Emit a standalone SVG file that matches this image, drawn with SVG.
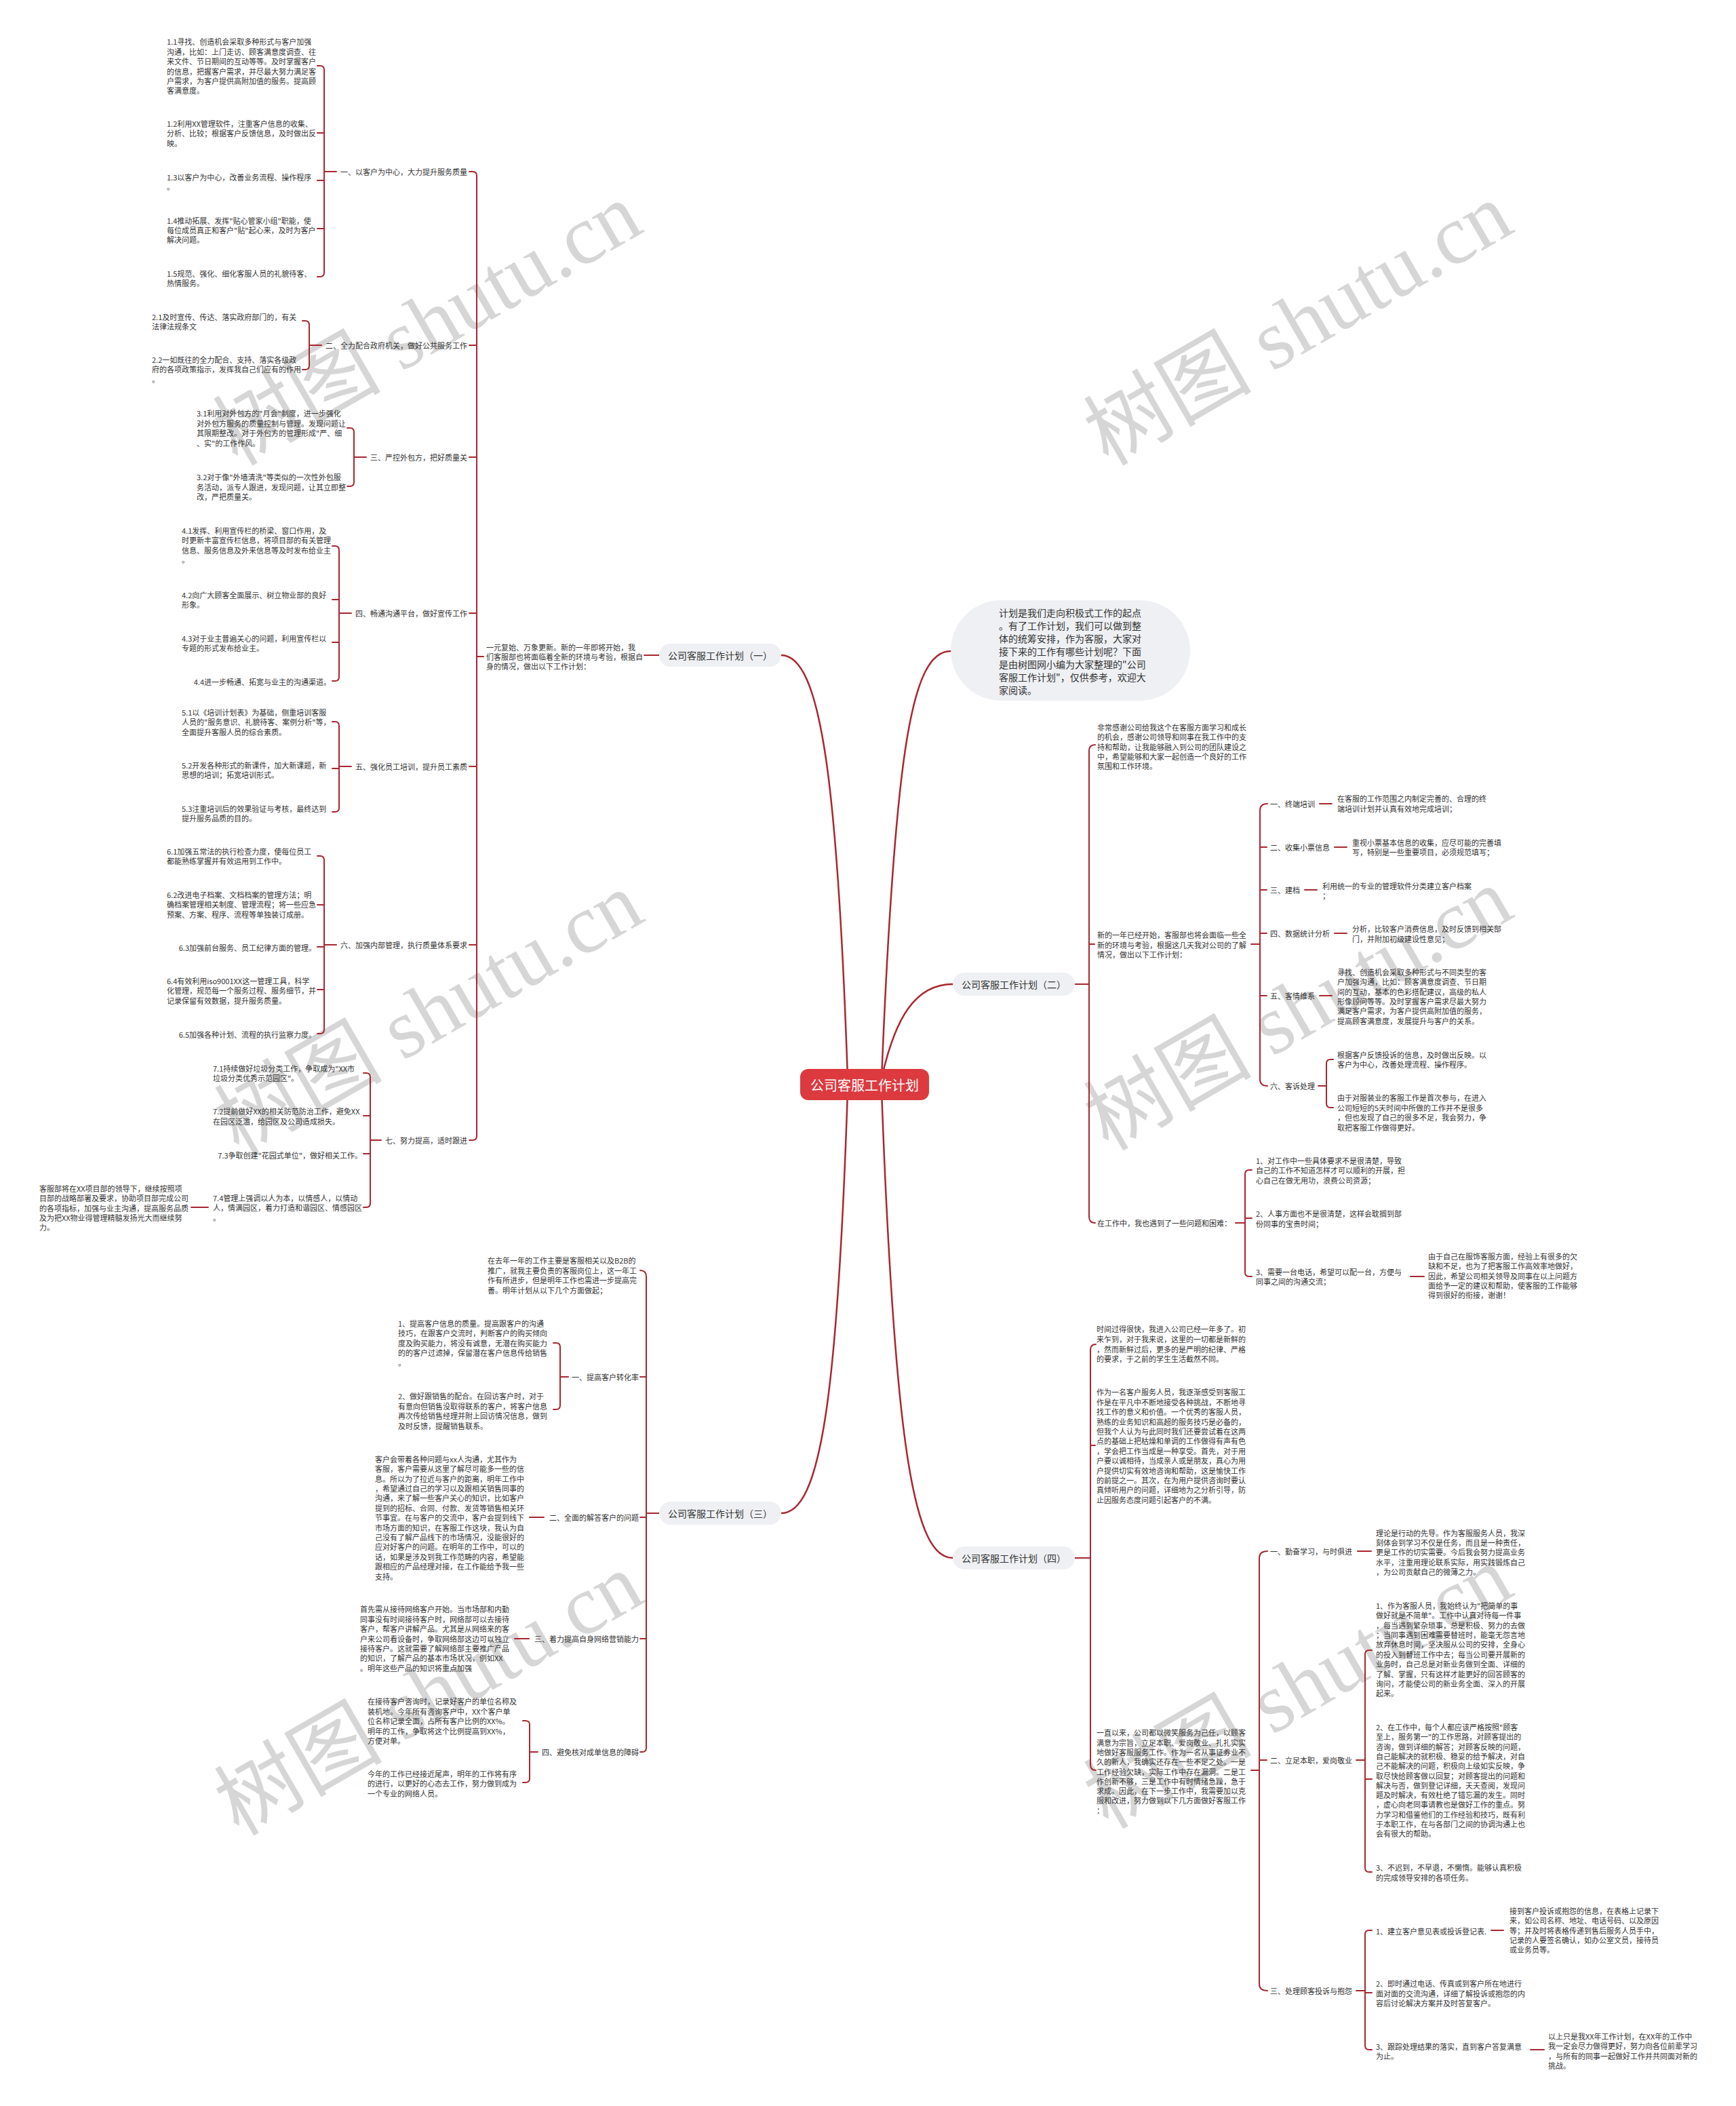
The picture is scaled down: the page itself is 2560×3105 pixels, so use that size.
<svg xmlns="http://www.w3.org/2000/svg" width="2560" height="3105" viewBox="0 0 2560 3105">
<style>
.t{font-family:"Noto Sans CJK SC","Microsoft YaHei",sans-serif;font-size:11px;fill:#333;dominant-baseline:central}
.e{text-anchor:end}
.b{font-family:"Noto Sans CJK SC",sans-serif;font-size:14px;fill:#333;dominant-baseline:central;text-anchor:middle}
.i{font-family:"Noto Sans CJK SC",sans-serif;font-size:14px;fill:#333;dominant-baseline:central}
.c{font-family:"Noto Sans CJK SC",sans-serif;font-size:20px;fill:#fff;dominant-baseline:central;text-anchor:middle}
.ln{fill:none;stroke:#a9262f;stroke-width:2;stroke-linecap:round}
.mc{fill:none;stroke:#a9262f;stroke-width:2.5;stroke-linecap:round}
.pill{fill:#eef0f3}
.wm{font-family:"Liberation Serif","Noto Sans CJK SC",serif;font-size:124px;fill:#d6d6d6}
</style>
<rect width="2560" height="3105" fill="#fff"/>
<g id="watermark">
<text class="wm" transform="translate(350 688) rotate(-30)">树图 shutu.cn</text>
<text class="wm" transform="translate(1634 688) rotate(-30)">树图 shutu.cn</text>
<text class="wm" transform="translate(352 1704) rotate(-30)">树图 shutu.cn</text>
<text class="wm" transform="translate(1634 1698) rotate(-30)">树图 shutu.cn</text>
<text class="wm" transform="translate(352 2708) rotate(-30)">树图 shutu.cn</text>
<text class="wm" transform="translate(1634 2698) rotate(-30)">树图 shutu.cn</text>
</g>
<g id="connectors">
<path class="mc" d="M1250 1590C1235 1150 1210 966 1152 966"/>
<path class="mc" d="M1250 1608C1235 2060 1210 2231 1152 2231"/>
<path class="mc" d="M1300 1590C1320 1100 1345 960 1402 960"/>
<path class="mc" d="M1300 1590C1320 1500 1350 1451 1405 1451"/>
<path class="mc" d="M1300 1608C1320 2150 1350 2297 1405 2297"/>
<path class="ln" d="M950 966H972"/>
<path class="ln" d="M692 253H697Q703 253 703 259V1675Q703 1681 697 1681H692M692 509H703M692 674H703M692 904H703M692 1130H703M692 1393H703M703 968H713"/>
<path class="ln" d="M468 97H472Q478 97 478 103V402Q478 408 472 408H468M468 196H478M468 266H478M468 337H478M478 253H496"/>
<path class="ln" d="M446 473H450Q456 473 456 479V539Q456 545 450 545H446M456 509H474"/>
<path class="ln" d="M512 631H516Q522 631 522 637V711Q522 717 516 717H512M522 674H540"/>
<path class="ln" d="M490 805H494Q500 805 500 811V998Q500 1004 494 1004H490M490 884H500M490 947H500M500 904H518"/>
<path class="ln" d="M490 1064H494Q500 1064 500 1070V1191Q500 1197 494 1197H490M490 1133H500M500 1130H518"/>
<path class="ln" d="M468 1262H472Q478 1262 478 1268V1518Q478 1524 472 1524H468M468 1334H478M468 1396H478M468 1459H478M478 1393H496"/>
<path class="ln" d="M536 1582H540Q546 1582 546 1588V1774Q546 1780 540 1780H536M536 1645H546M536 1701H546M546 1681H562"/>
<path class="ln" d="M282 1780H307"/>
<path class="ln" d="M944 1873Q953 1873 953 1882V2577Q953 2583 947 2583H944M944 2030H953M944 2237H953M944 2416H953M953 2231H972"/>
<path class="ln" d="M816 1980H820Q826 1980 826 1986V2072Q826 2078 820 2078H816M826 2030H838"/>
<path class="ln" d="M781 2237H802"/>
<path class="ln" d="M759 2416H780"/>
<path class="ln" d="M771 2537H775Q781 2537 781 2543V2622Q781 2628 775 2628H771M781 2583H793"/>
<path class="ln" d="M1615 1098Q1606 1098 1606 1107V1794Q1606 1803 1615 1803M1606 1392H1614M1585 1451H1606"/>
<path class="ln" d="M1869 1185Q1858 1185 1858 1195V1591Q1858 1601 1869 1601M1858 1249H1868M1858 1312H1868M1858 1376H1868M1858 1468H1868M1845 1392H1858"/>
<path class="ln" d="M1946 1185H1964M1968 1249H1986M1924 1312H1942M1968 1376H1986M1946 1468H1964"/>
<path class="ln" d="M1944 1601H1956M1966 1562H1962Q1956 1562 1956 1568V1627Q1956 1633 1962 1633H1966"/>
<path class="ln" d="M1822 1803H1836M1846 1725H1842Q1836 1725 1836 1731V1876Q1836 1882 1842 1882H1846M1836 1796H1846"/>
<path class="ln" d="M2080 1882H2100"/>
<path class="ln" d="M1616 1982Q1608 1982 1608 1990V2602Q1608 2610 1616 2610M1608 2131H1615M1585 2297H1608"/>
<path class="ln" d="M1869 2287Q1857 2287 1857 2297V2925Q1857 2935 1869 2935M1857 2595H1868M1845 2610H1857"/>
<path class="ln" d="M2002 2287H2022"/>
<path class="ln" d="M2000 2595H2013M2023 2433H2019Q2013 2433 2013 2439V2754Q2013 2760 2019 2760H2023M2013 2623H2023"/>
<path class="ln" d="M2000 2935H2013M2023 2846H2019Q2013 2846 2013 2852V3016Q2013 3022 2019 3022H2023M2013 2938H2023"/>
<path class="ln" d="M2199 2846H2217M2257 3022H2277"/>
</g>
<g id="center"><rect x="1180" y="1576" width="190" height="46" rx="12" fill="#dc3a3f"/><text class="c" x="1275" y="1599">公司客服工作计划</text></g>
<g id="intro"><rect class="pill" x="1402" y="885" width="353" height="148" rx="74"/>
<text class="i" x="1473" y="903.3">计划是我们走向积极式工作的起点<tspan x="1473" dy="18.9">。有了工作计划，我们可以做到整</tspan><tspan x="1473" dy="18.9">体的统筹安排，作为客服，大家对</tspan><tspan x="1473" dy="18.9">接下来的工作有哪些计划呢？下面</tspan><tspan x="1473" dy="18.9">是由树图网小编为大家整理的"公司</tspan><tspan x="1473" dy="18.9">客服工作计划"，仅供参考，欢迎大</tspan><tspan x="1473" dy="18.9">家阅读。</tspan></text></g>
<g id="b1"><rect class="pill" x="972" y="949" width="180" height="34" rx="17"/><text class="b" x="1062" y="966">公司客服工作计划（一）</text></g>
<g id="b1-intro"><text class="t" x="717" y="953.6">一元复始、万象更新。新的一年即将开始，我<tspan x="717" dy="14.4">们客服部也将面临着全新的环境与考验，根据自</tspan><tspan x="717" dy="14.4">身的情况，做出以下工作计划：</tspan></text></g>
<g id="b1-labels">
<text class="t e" x="689" y="253">一、以客户为中心，大力提升服务质量</text>
<text class="t e" x="689" y="509">二、全力配合政府机关，做好公共服务工作</text>
<text class="t e" x="689" y="674">三、严控外包方，把好质量关</text>
<text class="t e" x="689" y="904">四、畅通沟通平台，做好宣传工作</text>
<text class="t e" x="689" y="1130">五、强化员工培训，提升员工素质</text>
<text class="t e" x="689" y="1393">六、加强内部管理，执行质量体系要求</text>
<text class="t e" x="689" y="1681">七、努力提高，适时跟进</text>
</g>
<g id="b1-leaves">
<text class="t" x="246" y="61.4">1.1寻找、创造机会采取多种形式与客户加强<tspan x="246" dy="14.4">沟通，比如：上门走访、顾客满意度调查、往</tspan><tspan x="246" dy="14.4">来文件、节日期间的互动等等。及时掌握客户</tspan><tspan x="246" dy="14.4">的信息，把握客户需求，并尽最大努力满足客</tspan><tspan x="246" dy="14.4">户需求，为客户提供高附加值的服务。提高顾</tspan><tspan x="246" dy="14.4">客满意度。</tspan></text>
<text class="t" x="246" y="182">1.2利用XX管理软件，注重客户信息的收集、<tspan x="246" dy="14.4">分析、比较；根据客户反馈信息，及时做出反</tspan><tspan x="246" dy="14.4">映。</tspan></text>
<text class="t" x="246" y="261">1.3以客户为中心，改善业务流程、操作程序<tspan x="246" dy="14.4">。</tspan></text>
<text class="t" x="246" y="324.6">1.4推动拓展、发挥"贴心管家小组"职能，使<tspan x="246" dy="14.4">每位成员真正和客户"贴"起心来，及时为客户</tspan><tspan x="246" dy="14.4">解决问题。</tspan></text>
<text class="t" x="246" y="402.5">1.5规范、强化、细化客服人员的礼貌待客、<tspan x="246" dy="14.4">热情服务。</tspan></text>
<text class="t" x="224" y="466.8">2.1及时宣传、传达、落实政府部门的，有关<tspan x="224" dy="14.4">法律法规条文</tspan></text>
<text class="t" x="224" y="530">2.2一如既往的全力配合、支持、落实各级政<tspan x="224" dy="14.4">府的各项政策指示，发挥我自己们应有的作用</tspan><tspan x="224" dy="14.4">。</tspan></text>
<text class="t" x="290" y="609.4">3.1利用对外包方的"月会"制度，进一步强化<tspan x="290" dy="14.4">对外包方服务的质量控制与管理。发现问题让</tspan><tspan x="290" dy="14.4">其限期整改。对于外包方的管理形成"严、细</tspan><tspan x="290" dy="14.4">、实"的工作作风。</tspan></text>
<text class="t" x="290" y="703.4">3.2对于像"外墙清洗"等类似的一次性外包服<tspan x="290" dy="14.4">务活动，派专人跟进，发现问题，让其立即整</tspan><tspan x="290" dy="14.4">改，严把质量关。</tspan></text>
<text class="t" x="268" y="782">4.1发挥、利用宣传栏的桥梁、窗口作用，及<tspan x="268" dy="14.4">时更新丰富宣传栏信息，将项目部的有关管理</tspan><tspan x="268" dy="14.4">信息、服务信息及外来信息等及时发布给业主</tspan><tspan x="268" dy="14.4">。</tspan></text>
<text class="t" x="268" y="876.5">4.2向广大顾客全面展示、树立物业部的良好<tspan x="268" dy="14.4">形象。</tspan></text>
<text class="t" x="268" y="941">4.3对于业主普遍关心的问题，利用宣传栏以<tspan x="268" dy="14.4">专题的形式发布给业主。</tspan></text>
<text class="t e" x="488" y="1005">4.4进一步畅通、拓宽与业主的沟通渠道。</text>
<text class="t" x="268" y="1050">5.1以《培训计划表》为基础，侧重培训客服<tspan x="268" dy="14.4">人员的"服务意识、礼貌待客、案例分析"等，</tspan><tspan x="268" dy="14.4">全面提升客服人员的综合素质。</tspan></text>
<text class="t" x="268" y="1128">5.2开发各种形式的新课件，加大新课题，新<tspan x="268" dy="14.4">思想的培训；拓宽培训形式。</tspan></text>
<text class="t" x="268" y="1191.5">5.3注重培训后的效果验证与考核，最终达到<tspan x="268" dy="14.4">提升服务品质的目的。</tspan></text>
<text class="t" x="246" y="1255">6.1加强五常法的执行检查力度，使每位员工<tspan x="246" dy="14.4">都能熟练掌握并有效运用到工作中。</tspan></text>
<text class="t" x="246" y="1319">6.2改进电子档案、文档档案的管理方法；明<tspan x="246" dy="14.4">确档案管理相关制度、管理流程；将一些应急</tspan><tspan x="246" dy="14.4">预案、方案、程序、流程等单独装订成册。</tspan></text>
<text class="t e" x="466" y="1397">6.3加强前台服务、员工纪律方面的管理。</text>
<text class="t" x="246" y="1446">6.4有效利用iso9001XX这一管理工具，科学<tspan x="246" dy="14.4">化管理，规范每一个服务过程、服务细节，并</tspan><tspan x="246" dy="14.4">记录保留有效数据，提升服务质量。</tspan></text>
<text class="t e" x="466" y="1525">6.5加强各种计划、流程的执行监察力度。</text>
<text class="t" x="314" y="1575">7.1持续做好垃圾分类工作，争取成为"XX市<tspan x="314" dy="14.4">垃圾分类优秀示范园区"。</tspan></text>
<text class="t" x="314" y="1638.3">7.2提前做好XX的相关防范防治工作，避免XX<tspan x="314" dy="14.4">在园区泛滥，给园区及公司造成损失。</tspan></text>
<text class="t e" x="534" y="1702.7">7.3争取创建"花园式单位"，做好相关工作。</text>
<text class="t" x="314" y="1766">7.4管理上强调以人为本，以情感人，以情动<tspan x="314" dy="14.4">人，情满园区，着力打造和谐园区、情感园区</tspan><tspan x="314" dy="14.4">。</tspan></text>
<text class="t" x="58" y="1751.7">客服部将在XX项目部的领导下，继续按照项<tspan x="58" dy="14.4">目部的战略部署及要求，协助项目部完成公司</tspan><tspan x="58" dy="14.4">的各项指标，加强与业主沟通，提高服务品质</tspan><tspan x="58" dy="14.4">及为把XX物业得管理精髓发扬光大而继续努</tspan><tspan x="58" dy="14.4">力。</tspan></text>
</g>
<g id="b3"><rect class="pill" x="972" y="2214" width="180" height="34" rx="17"/><text class="b" x="1062" y="2231">公司客服工作计划（三）</text></g>
<g id="b3-nodes">
<text class="t" x="719" y="1858.3">在去年一年的工作主要是客服相关以及B2B的<tspan x="719" dy="14.4">推广，就我主要负责的客服岗位上，这一年工</tspan><tspan x="719" dy="14.4">作有所进步，但是明年工作也需进一步提高完</tspan><tspan x="719" dy="14.4">善。明年计划从以下几个方面做起；</tspan></text>
<text class="t e" x="942" y="2030">一、提高客户转化率</text>
<text class="t e" x="942" y="2237">二、全面的解答客户的问题</text>
<text class="t e" x="942" y="2416">三、着力提高自身网络营销能力</text>
<text class="t e" x="942" y="2583">四、避免核对成单信息的障碍</text>
<text class="t" x="587" y="1951">1、提高客户信息的质量。提高跟客户的沟通<tspan x="587" dy="14.4">技巧，在跟客户交流时，判断客户的购买倾向</tspan><tspan x="587" dy="14.4">度及购买能力，将没有诚意，无潜在购买能力</tspan><tspan x="587" dy="14.4">的的客户过滤掉，保留潜在客户信息传给销售</tspan><tspan x="587" dy="14.4">。</tspan></text>
<text class="t" x="587" y="2058.3">2、做好跟销售的配合。在回访客户时，对于<tspan x="587" dy="14.4">有意向但销售没取得联系的客户，将客户信息</tspan><tspan x="587" dy="14.4">再次传给销售经理并附上回访情况信息，做到</tspan><tspan x="587" dy="14.4">及时反馈，提醒销售联系。</tspan></text>
<text class="t" x="553" y="2150.7">客户会带着各种问题与xx人沟通，尤其作为<tspan x="553" dy="14.4">客服，客户需要从这里了解尽可能多一些的信</tspan><tspan x="553" dy="14.4">息。所以为了拉近与客户的距离，明年工作中</tspan><tspan x="553" dy="14.4">，希望通过自己的学习以及跟相关销售同事的</tspan><tspan x="553" dy="14.4">沟通，来了解一些客户关心的知识，比如客户</tspan><tspan x="553" dy="14.4">提到的招标、合同、付款、发货等销售相关环</tspan><tspan x="553" dy="14.4">节事宜。在与客户的交流中，客户会提到线下</tspan><tspan x="553" dy="14.4">市场方面的知识，在客服工作这块，我认为自</tspan><tspan x="553" dy="14.4">己没有了解产品线下的市场情况，没能很好的</tspan><tspan x="553" dy="14.4">应对好客户的问题。在明年的工作中，可以的</tspan><tspan x="553" dy="14.4">话，如果是涉及到我工作范畴的内容，希望能</tspan><tspan x="553" dy="14.4">跟相应的产品经理对接，在工作能给予我一些</tspan><tspan x="553" dy="14.4">支持。</tspan></text>
<text class="t" x="531" y="2372.3">首先需从接待网络客户开始。当市场部和内勤<tspan x="531" dy="14.4">同事没有时间接待客户时，网络部可以去接待</tspan><tspan x="531" dy="14.4">客户，帮客户讲解产品。尤其是从网络来的客</tspan><tspan x="531" dy="14.4">户来公司看设备时，争取网络部这边可以独立</tspan><tspan x="531" dy="14.4">接待客户。这就需要了解网络部主要推广产品</tspan><tspan x="531" dy="14.4">的知识，了解产品的基本市场状况，例如XX</tspan><tspan x="531" dy="14.4">。明年这些产品的知识将重点加强</tspan></text>
<text class="t" x="542" y="2508.3">在接待客户咨询时，记录好客户的单位名称及<tspan x="542" dy="14.4">装机地。今年所有咨询客户中，XX个客户单</tspan><tspan x="542" dy="14.4">位名称记录全面，占所有客户比例的XX%。</tspan><tspan x="542" dy="14.4">明年的工作，争取将这个比例提高到XX%，</tspan><tspan x="542" dy="14.4">方便对单。</tspan></text>
<text class="t" x="542" y="2615">今年的工作已经接近尾声，明年的工作将有序<tspan x="542" dy="14.4">的进行，以更好的心态去工作，努力做到成为</tspan><tspan x="542" dy="14.4">一个专业的网络人员。</tspan></text>
</g>
<g id="b2"><rect class="pill" x="1405" y="1434" width="180" height="34" rx="17"/><text class="b" x="1495" y="1451">公司客服工作计划（二）</text></g>
<g id="b2-nodes">
<text class="t" x="1618" y="1071.7">非常感谢公司给我这个在客服方面学习和成长<tspan x="1618" dy="14.4">的机会，感谢公司领导和同事在我工作中的支</tspan><tspan x="1618" dy="14.4">持和帮助，让我能够融入到公司的团队建设之</tspan><tspan x="1618" dy="14.4">中，希望能够和大家一起创造一个良好的工作</tspan><tspan x="1618" dy="14.4">氛围和工作环境。</tspan></text>
<text class="t" x="1618" y="1378.3">新的一年已经开始，客服部也将会面临一些全<tspan x="1618" dy="14.4">新的环境与考验，根据这几天我对公司的了解</tspan><tspan x="1618" dy="14.4">情况，做出以下工作计划：</tspan></text>
<text class="t" x="1873" y="1185">一、终端培训</text>
<text class="t" x="1873" y="1249">二、收集小票信息</text>
<text class="t" x="1873" y="1312">三、建档</text>
<text class="t" x="1873" y="1376">四、数据统计分析</text>
<text class="t" x="1873" y="1468">五、客情维系</text>
<text class="t" x="1873" y="1601">六、客诉处理</text>
<text class="t" x="1972" y="1177.3">在客服的工作范围之内制定完善的、合理的终<tspan x="1972" dy="14.4">端培训计划并认真有效地完成培训；</tspan></text>
<text class="t" x="1994" y="1241.7">重视小票基本信息的收集，应尽可能的完善填<tspan x="1994" dy="14.4">写，特别是一些重要项目，必须规范填写；</tspan></text>
<text class="t" x="1950" y="1305.7">利用统一的专业的管理软件分类建立客户档案<tspan x="1950" dy="14.4">；</tspan></text>
<text class="t" x="1994" y="1369.3">分析，比较客户消费信息，及时反馈到相关部<tspan x="1994" dy="14.4">门，并附加初级建设性意见；</tspan></text>
<text class="t" x="1972" y="1432.7">寻找、创造机会采取多种形式与不同类型的客<tspan x="1972" dy="14.4">户加强沟通，比如：顾客满意度调查、节日期</tspan><tspan x="1972" dy="14.4">间的互动，基本的色彩搭配建议，高级的私人</tspan><tspan x="1972" dy="14.4">形像顾问等等。及时掌握客户需求尽最大努力</tspan><tspan x="1972" dy="14.4">满足客户需求，为客户提供高附加值的服务，</tspan><tspan x="1972" dy="14.4">提高顾客满意度，发展提升与客户的关系。</tspan></text>
<text class="t" x="1972" y="1555">根据客户反馈投诉的信息，及时做出反映。以<tspan x="1972" dy="14.4">客户为中心，改善处理流程、操作程序。</tspan></text>
<text class="t" x="1972" y="1618.3">由于对服装业的客服工作是首次参与，在进入<tspan x="1972" dy="14.4">公司短短的5天时间中所做的工作并不是很多</tspan><tspan x="1972" dy="14.4">，但也发现了自己的很多不足，我会努力，争</tspan><tspan x="1972" dy="14.4">取把客服工作做得更好。</tspan></text>
<text class="t" x="1618" y="1803">在工作中，我也遇到了一些问题和困难：</text>
<text class="t" x="1852" y="1710.7">1、对工作中一些具体要求不是很清楚，导致<tspan x="1852" dy="14.4">自己的工作不知道怎样才可以顺利的开展，担</tspan><tspan x="1852" dy="14.4">心自己在做无用功，浪费公司资源；</tspan></text>
<text class="t" x="1852" y="1789.3">2、人事方面也不是很清楚，这样会耽搁到部<tspan x="1852" dy="14.4">份同事的宝贵时间；</tspan></text>
<text class="t" x="1852" y="1875">3、需要一台电话，希望可以配一台，方便与<tspan x="1852" dy="14.4">同事之间的沟通交流；</tspan></text>
<text class="t" x="2106" y="1851.7">由于自己在服饰客服方面，经验上有很多的欠<tspan x="2106" dy="14.4">缺和不足，也为了把客服工作高效率地做好，</tspan><tspan x="2106" dy="14.4">因此，希望公司相关领导及同事在以上问题方</tspan><tspan x="2106" dy="14.4">面给予一定的建议和帮助，使客服的工作能够</tspan><tspan x="2106" dy="14.4">得到很好的衔接，谢谢！</tspan></text>
</g>
<g id="b4"><rect class="pill" x="1405" y="2280" width="180" height="34" rx="17"/><text class="b" x="1495" y="2297">公司客服工作计划（四）</text></g>
<g id="b4-nodes">
<text class="t" x="1617" y="1959.3">时间过得很快，我进入公司已经一年多了。初<tspan x="1617" dy="14.6">来乍到，对于我来说，这里的一切都是新鲜的</tspan><tspan x="1617" dy="14.6">，然而新鲜过后，更多的是严明的纪律、严格</tspan><tspan x="1617" dy="14.6">的要求，于之前的学生生活截然不同。</tspan></text>
<text class="t" x="1617" y="2052.4">作为一名客户服务人员，我逐渐感受到客服工<tspan x="1617" dy="14.4">作是在平凡中不断地接受各种挑战，不断地寻</tspan><tspan x="1617" dy="14.4">找工作的意义和价值。一个优秀的客服人员，</tspan><tspan x="1617" dy="14.4">熟练的业务知识和高超的服务技巧是必备的，</tspan><tspan x="1617" dy="14.4">但我个人认为与此同时我们还要尝试着在这两</tspan><tspan x="1617" dy="14.4">点的基础上把枯燥和单调的工作做得有声有色</tspan><tspan x="1617" dy="14.4">，学会把工作当成是一种享受。首先，对于用</tspan><tspan x="1617" dy="14.4">户要以诚相待，当成亲人或是朋友，真心为用</tspan><tspan x="1617" dy="14.4">户提供切实有效地咨询和帮助，这是愉快工作</tspan><tspan x="1617" dy="14.4">的前提之一。其次，在为用户提供咨询时要认</tspan><tspan x="1617" dy="14.4">真倾听用户的问题，详细地为之分析引导，防</tspan><tspan x="1617" dy="14.4">止因服务态度问题引起客户的不满。</tspan></text>
<text class="t" x="1617" y="2554.3">一直以来，公司都以微笑服务为己任，以顾客<tspan x="1617" dy="14.3">满意为宗旨，立足本职、爱岗敬业、扎扎实实</tspan><tspan x="1617" dy="14.3">地做好客服服务工作。作为一名从事证券业不</tspan><tspan x="1617" dy="14.3">久的新人，我确实还存在一些不足之处。一是</tspan><tspan x="1617" dy="14.3">工作经验欠缺，实际工作中存在漏洞。二是工</tspan><tspan x="1617" dy="14.3">作创新不够，三是工作中有时情绪急躁，急于</tspan><tspan x="1617" dy="14.3">求成。因此，在下一步工作中，我需要加以克</tspan><tspan x="1617" dy="14.3">服和改进，努力做到以下几方面做好客服工作</tspan><tspan x="1617" dy="14.3">：</tspan></text>
<text class="t" x="1873" y="2287">一、勤奋学习，与时俱进</text>
<text class="t" x="1873" y="2595">二、立足本职，爱岗敬业</text>
<text class="t" x="1873" y="2935">三、处理顾客投诉与抱怨</text>
<text class="t" x="2029" y="2259.6">理论是行动的先导。作为客服服务人员，我深<tspan x="2029" dy="14.4">刻体会到学习不仅是任务，而且是一种责任，</tspan><tspan x="2029" dy="14.4">更是工作的切实需要。今后我会努力提高业务</tspan><tspan x="2029" dy="14.4">水平，注重用理论联系实际，用实践锻炼自己</tspan><tspan x="2029" dy="14.4">，为公司贡献自己的微薄之力。</tspan></text>
<text class="t" x="2029" y="2366.8">1、作为客服人员，我始终认为"把简单的事<tspan x="2029" dy="14.4">做好就是不简单"。工作中认真对待每一件事</tspan><tspan x="2029" dy="14.4">，每当遇到繁杂琐事，总是积极、努力的去做</tspan><tspan x="2029" dy="14.4">；当同事遇到困难需要替班时，能毫无怨言地</tspan><tspan x="2029" dy="14.4">放弃休息时间，坚决服从公司的安排，全身心</tspan><tspan x="2029" dy="14.4">的投入到替班工作中去；每当公司要开展新的</tspan><tspan x="2029" dy="14.4">业务时，自己总是对新业务做到全面、详细的</tspan><tspan x="2029" dy="14.4">了解、掌握，只有这样才能更好的回答顾客的</tspan><tspan x="2029" dy="14.4">询问，才能使公司的新业务全面、深入的开展</tspan><tspan x="2029" dy="14.4">起来。</tspan></text>
<text class="t" x="2029" y="2546">2、在工作中，每个人都应该严格按照"顾客<tspan x="2029" dy="14.3">至上，服务第一"的工作思路，对顾客提出的</tspan><tspan x="2029" dy="14.3">咨询，做到详细的解答；对顾客反映的问题，</tspan><tspan x="2029" dy="14.3">自己能解决的就积极、稳妥的给予解决，对自</tspan><tspan x="2029" dy="14.3">己不能解决的问题，积极向上级如实反映，争</tspan><tspan x="2029" dy="14.3">取尽快给顾客做以回复；对顾客提出的问题和</tspan><tspan x="2029" dy="14.3">解决与否，做到登记详细，天天查阅，发现问</tspan><tspan x="2029" dy="14.3">题及时解决，有效杜绝了错忘漏的发生。同时</tspan><tspan x="2029" dy="14.3">，虚心向老同事请教也是做好工作的重点。努</tspan><tspan x="2029" dy="14.3">力学习和借鉴他们的工作经验和技巧，既有利</tspan><tspan x="2029" dy="14.3">于本职工作，在与各部门之间的协调沟通上也</tspan><tspan x="2029" dy="14.3">会有很大的帮助。</tspan></text>
<text class="t" x="2029" y="2753.2">3、不迟到，不早退，不懒惰。能够认真积极<tspan x="2029" dy="14.4">的完成领导安排的各项任务。</tspan></text>
<text class="t" x="2029" y="2846.7">1、建立客户意见表或投诉登记表.</text>
<text class="t" x="2226" y="2816.7">接到客户投诉或抱怨的信息，在表格上记录下<tspan x="2226" dy="14.4">来，如公司名称、地址、电话号码、以及原因</tspan><tspan x="2226" dy="14.4">等；并及时将表格传递到售后服务人员手中，</tspan><tspan x="2226" dy="14.4">记录的人要签名确认，如办公室文员，接待员</tspan><tspan x="2226" dy="14.4">或业务员等。</tspan></text>
<text class="t" x="2029" y="2924.3">2、即时通过电话、传真或到客户所在地进行<tspan x="2029" dy="14.4">面对面的交流沟通，详细了解投诉或抱怨的内</tspan><tspan x="2029" dy="14.4">容后讨论解决方案并及时答复客户。</tspan></text>
<text class="t" x="2029" y="3016.7">3、跟踪处理结果的落实，直到客户答复满意<tspan x="2029" dy="14.4">为止。</tspan></text>
<text class="t" x="2283" y="3001.7">以上只是我XX年工作计划，在XX年的工作中<tspan x="2283" dy="14.4">我一定会尽力做得更好，努力向各位前辈学习</tspan><tspan x="2283" dy="14.4">，与所有的同事一起做好工作并共同面对新的</tspan><tspan x="2283" dy="14.4">挑战。</tspan></text>
</g>
</svg>
